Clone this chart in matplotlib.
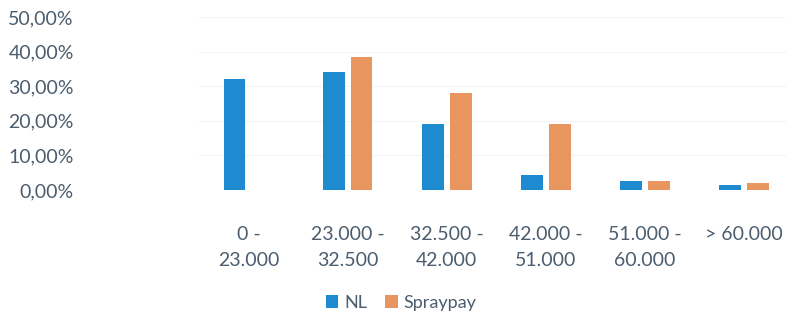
import matplotlib.pyplot as plt
import numpy as np
from matplotlib.ticker import FuncFormatter

categories = ["0 -\n23.000", "23.000 -\n32.500", "32.500 -\n42.000",
              "42.000 -\n51.000", "51.000 -\n60.000", "> 60.000"]
nl = [0.32, 0.34, 0.19, 0.045, 0.025, 0.015]
spraypay = [0.0, 0.385, 0.28, 0.19, 0.025, 0.02]

plt.rcParams["font.family"] = ["Lato", "DejaVu Sans"]
text_color = "#4b5d6e"

fig = plt.figure(figsize=(7.86, 3.19), dpi=100)
ax = fig.add_axes([0.253, 0.404, 0.757, 0.543])

x = np.arange(len(categories))
w = 0.22
ax.bar(x - 0.14, nl, w, color="#1e8ad0", label="NL")
ax.bar(x + 0.14, spraypay, w, color="#e8955f", label="Spraypay")

ax.set_xlim(-0.5, 5.5)
ax.set_ylim(0, 0.5)
ax.set_yticks(np.arange(0, 0.51, 0.1))
ax.yaxis.set_major_formatter(FuncFormatter(lambda v, p: f"{v * 100:.2f}%".replace(".", ",")))
ax.set_xticks(x)
ax.set_xticklabels(categories, linespacing=1.65)
ax.grid(axis="y", color="#f4f4f4", linewidth=0.8)
ax.set_axisbelow(True)
for s in ax.spines.values():
    s.set_visible(False)
ax.tick_params(axis="y", length=0, pad=90, labelsize=14, labelcolor=text_color)
ax.tick_params(axis="x", length=0, pad=26, labelsize=14, labelcolor=text_color)

fig.legend(loc="center", bbox_to_anchor=(0.51, 0.05), ncol=2, frameon=False,
           fontsize=13, labelcolor=text_color, handlelength=0.7, handleheight=0.7,
           handletextpad=0.3, columnspacing=1.0)

fig.savefig("out.png", dpi=100)
